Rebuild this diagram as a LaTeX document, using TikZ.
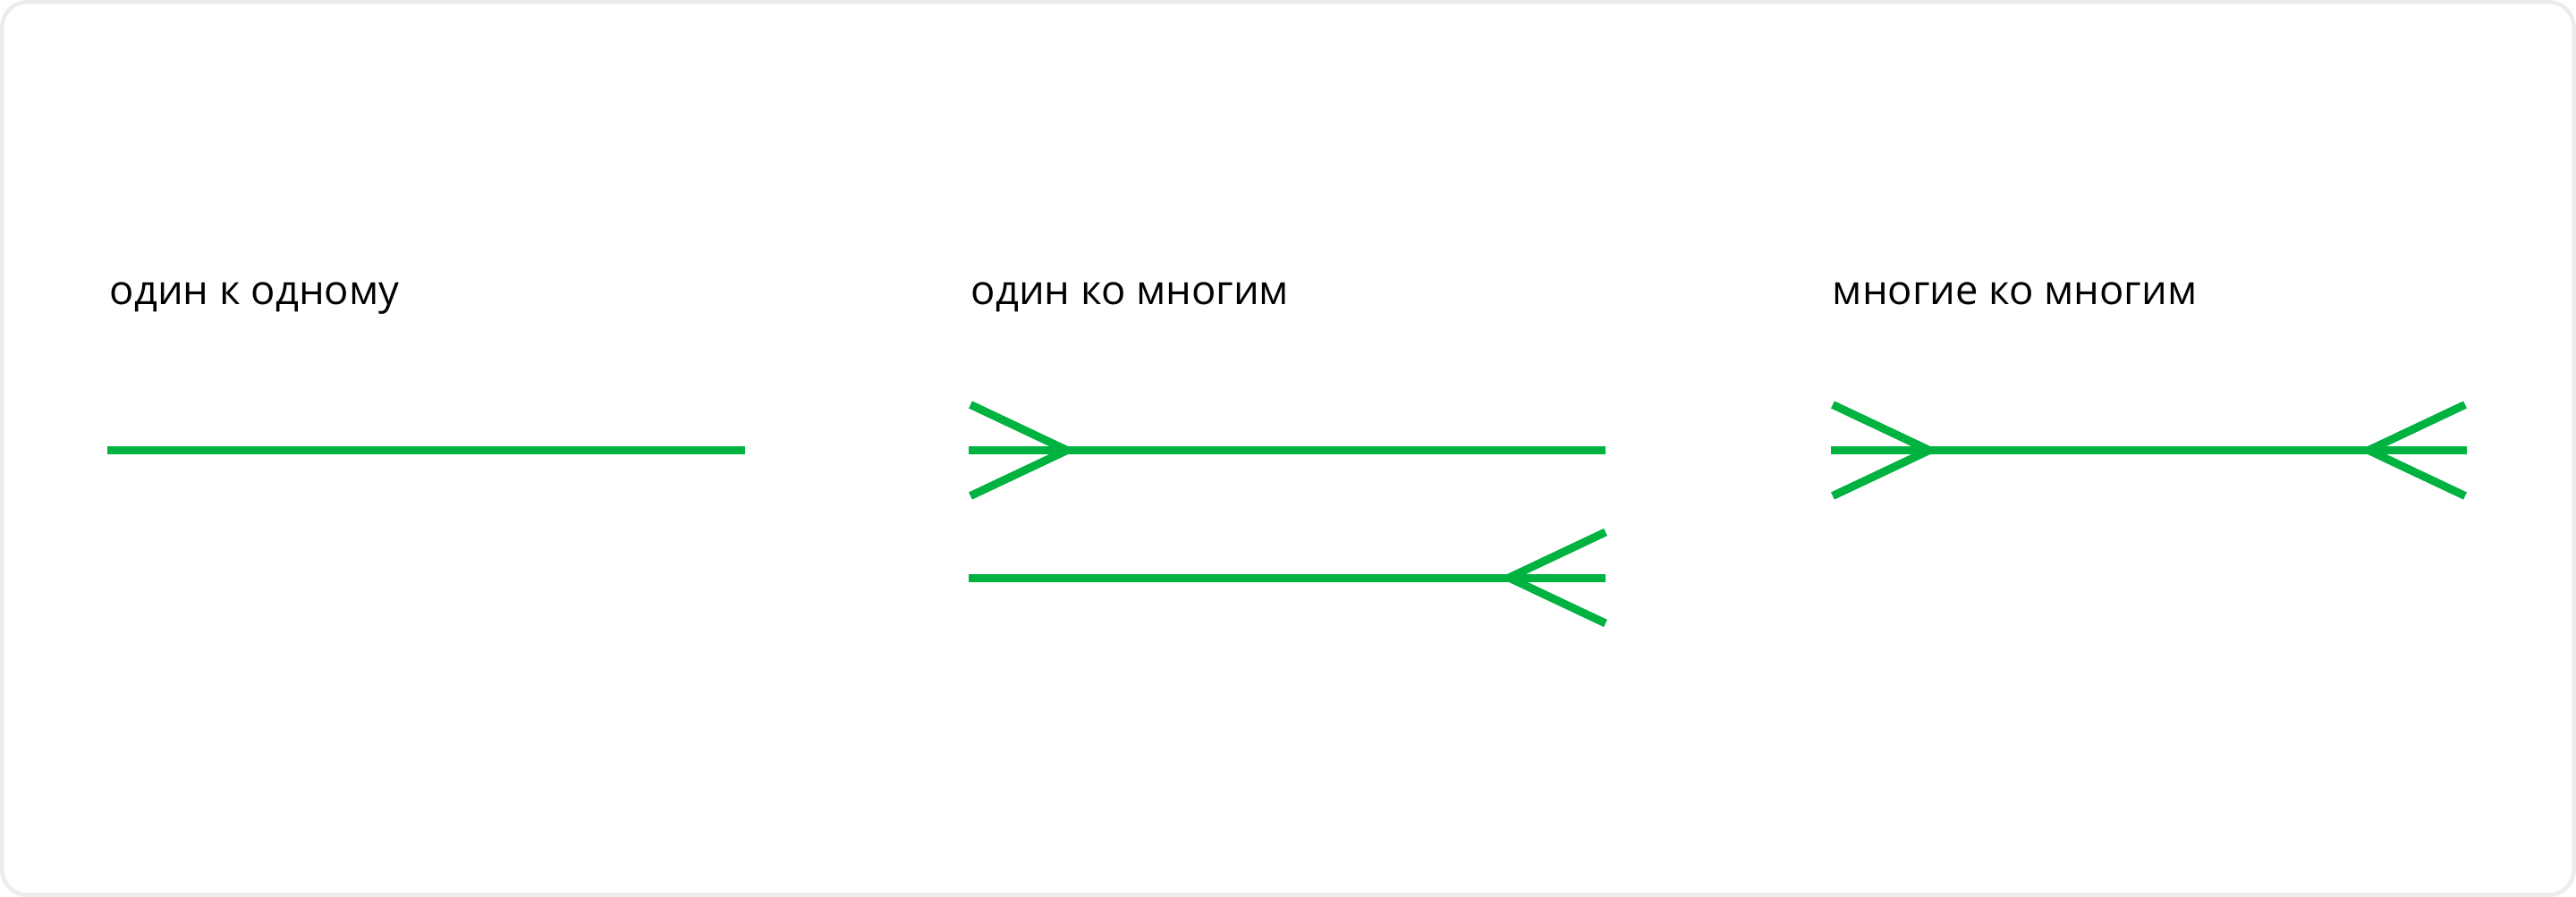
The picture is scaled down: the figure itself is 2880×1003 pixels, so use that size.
\documentclass[tikz,border=0pt]{standalone}
\usepackage{fontspec}
\setmainfont{Open Sans}
\definecolor{relgreen}{RGB}{0,178,64}
\definecolor{framegray}{RGB}{236,236,236}
\begin{document}
\begin{tikzpicture}[x=0.01cm,y=-0.01cm,
    every node/.style={font=\fontsize{12.9}{15}\selectfont,inner sep=0pt,anchor=base west},
    rel/.style={relgreen,line width=0.09cm}]
    \useasboundingbox (0,0) rectangle (2880,1003);
    \draw[framegray,line width=0.045cm,rounded corners=0.28cm] (2.3,2.3) rectangle (2877.7,1000.7);
    % one to one
    \node (oneone) at (122,340) {один к одному};
    \coordinate (a1) at (120,503.5);
    \coordinate (a2) at (833,503.5);
    \draw[rel] (a1) -- (a2);
    % one to many
    \node (onemany) at (1085,340) {один ко многим};
    \coordinate (b1) at (1083,503.5);
    \coordinate (b2) at (1795,503.5);
    \coordinate (bj) at (1193,503.5);
    \coordinate (bt) at (1085,452.5);
    \coordinate (bb) at (1085,554.5);
    \draw[rel] (b1) -- (b2);
    \draw[rel] (bt) -- (bj) (bb) -- (bj);
    \coordinate (c1) at (1083,646);
    \coordinate (c2) at (1795,646);
    \coordinate (cj) at (1687,646);
    \coordinate (ct) at (1795,595);
    \coordinate (cb) at (1795,697);
    \draw[rel] (c1) -- (c2);
    \draw[rel] (ct) -- (cj) (cb) -- (cj);
    % many to many
    \node (manymany) at (2048,340) {многие ко многим};
    \coordinate (d1) at (2047,503.5);
    \coordinate (d2) at (2758,503.5);
    \coordinate (dl) at (2157,503.5);
    \coordinate (dr) at (2648,503.5);
    \draw[rel] (d1) -- (d2);
    \draw[rel] (2049,452.5) coordinate (dlt) -- (dl) (2049,554.5) coordinate (dlb) -- (dl);
    \draw[rel] (2756,452.5) coordinate (drt) -- (dr) (2756,554.5) coordinate (drb) -- (dr);
\end{tikzpicture}
\end{document}
